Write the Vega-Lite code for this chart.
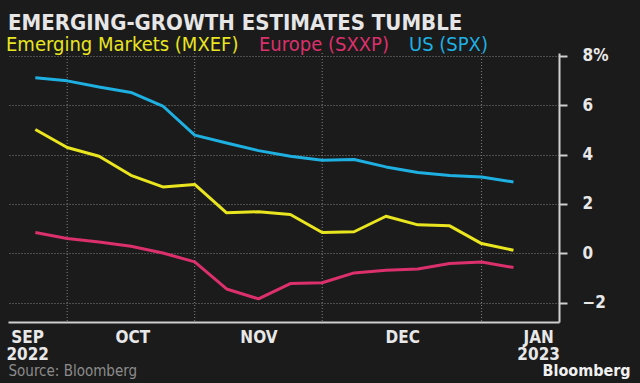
{
  "$schema": "https://vega.github.io/schema/vega-lite/v6.json",
  "autosize": {"type": "none"},
  "width": 551,
  "height": 269,
  "padding": {"left": 8, "top": 53, "right": 81, "bottom": 61},
  "background": "#1b1b1b",
  "config": {
    "view": {"stroke": null},
    "font": "Liberation Sans Narrow, DejaVu Sans Condensed, sans-serif"
  },
  "title": {
    "text": "EMERGING-GROWTH ESTIMATES TUMBLE",
    "anchor": "start",
    "frame": "group",
    "font": "Liberation Sans Narrow, DejaVu Sans Condensed, sans-serif",
    "fontSize": 22,
    "fontWeight": "bold",
    "color": "#e6e6e6",
    "baseline": "alphabetic",
    "offset": 2,
    "dy": 13
  },
  "datasets": {
    "lines": [
      {"date": "2022-09-30", "series": "Emerging Markets (MXEF)", "value": 5.02},
      {"date": "2022-10-07", "series": "Emerging Markets (MXEF)", "value": 4.29},
      {"date": "2022-10-14", "series": "Emerging Markets (MXEF)", "value": 3.93},
      {"date": "2022-10-21", "series": "Emerging Markets (MXEF)", "value": 3.16},
      {"date": "2022-10-28", "series": "Emerging Markets (MXEF)", "value": 2.69},
      {"date": "2022-11-04", "series": "Emerging Markets (MXEF)", "value": 2.79},
      {"date": "2022-11-11", "series": "Emerging Markets (MXEF)", "value": 1.64},
      {"date": "2022-11-18", "series": "Emerging Markets (MXEF)", "value": 1.68},
      {"date": "2022-11-25", "series": "Emerging Markets (MXEF)", "value": 1.57},
      {"date": "2022-12-02", "series": "Emerging Markets (MXEF)", "value": 0.84},
      {"date": "2022-12-09", "series": "Emerging Markets (MXEF)", "value": 0.87},
      {"date": "2022-12-16", "series": "Emerging Markets (MXEF)", "value": 1.50},
      {"date": "2022-12-23", "series": "Emerging Markets (MXEF)", "value": 1.15},
      {"date": "2022-12-30", "series": "Emerging Markets (MXEF)", "value": 1.11},
      {"date": "2023-01-06", "series": "Emerging Markets (MXEF)", "value": 0.39},
      {"date": "2023-01-13", "series": "Emerging Markets (MXEF)", "value": 0.12},
      {"date": "2022-09-30", "series": "Europe (SXXP)", "value": 0.84},
      {"date": "2022-10-07", "series": "Europe (SXXP)", "value": 0.60},
      {"date": "2022-10-14", "series": "Europe (SXXP)", "value": 0.45},
      {"date": "2022-10-21", "series": "Europe (SXXP)", "value": 0.28},
      {"date": "2022-10-28", "series": "Europe (SXXP)", "value": 0.01},
      {"date": "2022-11-04", "series": "Europe (SXXP)", "value": -0.35},
      {"date": "2022-11-11", "series": "Europe (SXXP)", "value": -1.45},
      {"date": "2022-11-18", "series": "Europe (SXXP)", "value": -1.85},
      {"date": "2022-11-25", "series": "Europe (SXXP)", "value": -1.23},
      {"date": "2022-12-02", "series": "Europe (SXXP)", "value": -1.20},
      {"date": "2022-12-09", "series": "Europe (SXXP)", "value": -0.80},
      {"date": "2022-12-16", "series": "Europe (SXXP)", "value": -0.69},
      {"date": "2022-12-23", "series": "Europe (SXXP)", "value": -0.64},
      {"date": "2022-12-30", "series": "Europe (SXXP)", "value": -0.42},
      {"date": "2023-01-06", "series": "Europe (SXXP)", "value": -0.36},
      {"date": "2023-01-13", "series": "Europe (SXXP)", "value": -0.58},
      {"date": "2022-09-30", "series": "US (SPX)", "value": 7.12},
      {"date": "2022-10-07", "series": "US (SPX)", "value": 6.99},
      {"date": "2022-10-14", "series": "US (SPX)", "value": 6.74},
      {"date": "2022-10-21", "series": "US (SPX)", "value": 6.52},
      {"date": "2022-10-28", "series": "US (SPX)", "value": 5.97},
      {"date": "2022-11-04", "series": "US (SPX)", "value": 4.79},
      {"date": "2022-11-11", "series": "US (SPX)", "value": 4.47},
      {"date": "2022-11-18", "series": "US (SPX)", "value": 4.16},
      {"date": "2022-11-25", "series": "US (SPX)", "value": 3.93},
      {"date": "2022-12-02", "series": "US (SPX)", "value": 3.77},
      {"date": "2022-12-09", "series": "US (SPX)", "value": 3.80},
      {"date": "2022-12-16", "series": "US (SPX)", "value": 3.50},
      {"date": "2022-12-23", "series": "US (SPX)", "value": 3.27},
      {"date": "2022-12-30", "series": "US (SPX)", "value": 3.15},
      {"date": "2023-01-06", "series": "US (SPX)", "value": 3.09},
      {"date": "2023-01-13", "series": "US (SPX)", "value": 2.89}
    ],
    "grid": [
      {"date": "2022-10-07"},
      {"date": "2022-11-04"},
      {"date": "2022-12-02"},
      {"date": "2023-01-06"}
    ]
  },
  "encoding": {
    "x": {
      "field": "date",
      "type": "temporal",
      "scale": {
        "type": "utc",
        "domain": [
          {"year": 2022, "month": 9, "date": 24, "utc": true},
          {"year": 2023, "month": 1, "date": 23, "utc": true}
        ]
      },
      "axis": {
        "values": [
          {"year": 2022, "month": 9, "date": 28, "hours": 5, "utc": true},
          {"year": 2022, "month": 10, "date": 21, "hours": 7, "utc": true},
          {"year": 2022, "month": 11, "date": 18, "hours": 0, "utc": true},
          {"year": 2022, "month": 12, "date": 19, "hours": 14, "utc": true},
          {"year": 2023, "month": 1, "date": 18, "hours": 10, "utc": true}
        ],
        "labelExpr": "(utcmonth(datum.value) == 8 || utcmonth(datum.value) == 0) ? [upper(utcFormat(datum.value, '%b')), utcFormat(datum.value, '%Y')] : upper(utcFormat(datum.value, '%b'))",
        "grid": false,
        "ticks": false,
        "domain": true,
        "domainColor": "#cfcfcf",
        "domainWidth": 2,
        "labelColor": "#e8e8e8",
        "labelFontSize": 17,
        "labelFontWeight": "bold",
        "labelLineHeight": 17,
        "labelPadding": 7,
        "labelAlign": "center",
        "labelBaseline": "top",
        "labelOverlap": false,
        "labelFlush": false,
        "labelBound": false,
        "title": "Source: Bloomberg",
        "titleColor": "#8c8c8c",
        "titleFontSize": 15,
        "titleFontWeight": "normal",
        "titleAnchor": "start",
        "titleAlign": "left",
        "titleBaseline": "alphabetic",
        "titleX": 0,
        "titleY": 53
      }
    }
  },
  "layer": [
    {
      "data": {"name": "grid"},
      "mark": {"type": "rule", "color": "#808080", "strokeWidth": 1, "strokeDash": [1, 2]}
    },
    {
      "data": {"name": "lines"},
      "mark": {"type": "line", "strokeWidth": 3, "strokeJoin": "round", "strokeCap": "butt"},
      "encoding": {
        "y": {
          "field": "value",
          "type": "quantitative",
          "scale": {"domain": [-2.79, 8.12], "nice": false, "zero": false},
          "axis": {
            "orient": "right",
            "values": [-2, 0, 2, 4, 6, 8],
            "labelExpr": "datum.value == 8 ? '8%' : datum.label",
            "grid": true,
            "gridColor": "#808080",
            "gridDash": [1, 2],
            "gridWidth": 1,
            "domain": true,
            "domainColor": "#cfcfcf",
            "domainWidth": 2,
            "ticks": true,
            "tickColor": "#cfcfcf",
            "tickWidth": 2,
            "tickSize": 8,
            "labelPadding": 15,
            "labelColor": "#e8e8e8",
            "labelFontSize": 17,
            "labelFontWeight": "bold",
            "labelAlign": "left",
            "labelBaseline": "middle",
            "title": "Bloomberg",
            "titleAngle": 0,
            "titleColor": "#f0f0f0",
            "titleFontSize": 16,
            "titleFontWeight": "bold",
            "titleAlign": "left",
            "titleBaseline": "alphabetic",
            "titleX": -17,
            "titleY": 322
          }
        },
        "color": {
          "field": "series",
          "type": "nominal",
          "scale": {
            "domain": ["Emerging Markets (MXEF)", "Europe (SXXP)", "US (SPX)"],
            "range": ["#e9e51f", "#dc306c", "#1fb0e2"]
          },
          "legend": {
            "orient": "none",
            "legendX": -22,
            "legendY": -12,
            "direction": "horizontal",
            "title": null,
            "symbolSize": 0,
            "symbolStrokeWidth": 0,
            "symbolOpacity": 0,
            "labelOffset": 0,
            "columnPadding": 0,
            "labelFontSize": 20,
            "labelLimit": 400,
            "labelBaseline": "alphabetic",
            "labelColor": {"expr": "datum.value == 'Emerging Markets (MXEF)' ? '#e9e51f' : datum.value == 'Europe (SXXP)' ? '#dc306c' : '#1fb0e2'"}
          }
        }
      }
    }
  ]
}
